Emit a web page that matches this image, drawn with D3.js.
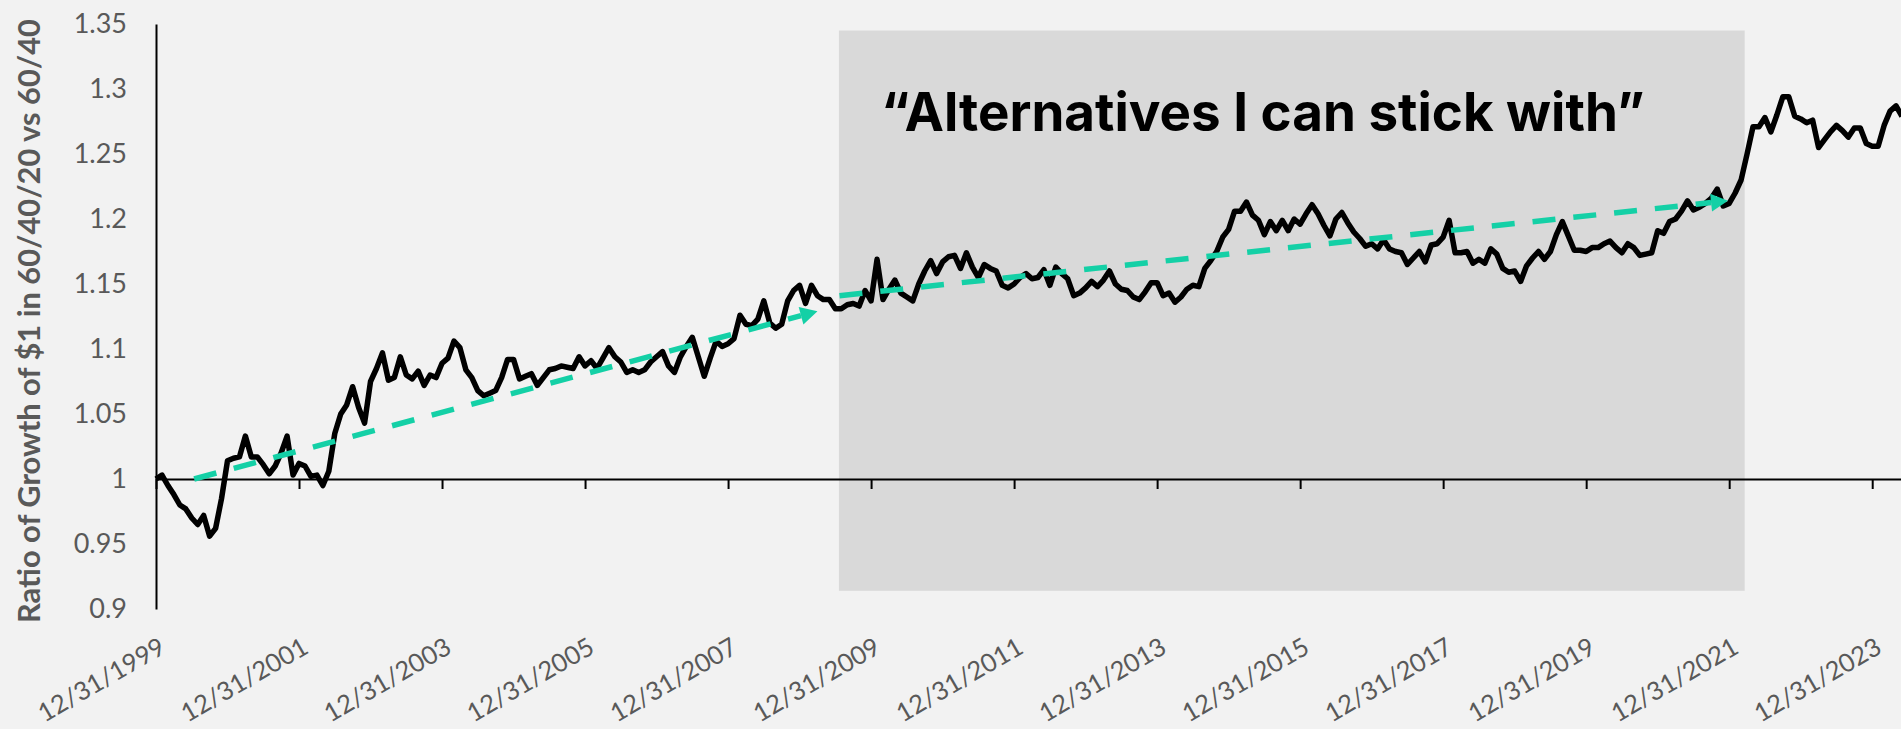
<!DOCTYPE html>
<html>
<head>
<meta charset="utf-8">
<script src="https://cdn.jsdelivr.net/npm/d3@7"></script>
<style>
  body { margin: 0; background: #f2f2f2; }
  svg { display: block; }
</style>
</head>
<body>
<div id="chart"></div>
<script>
// monthly ratio, 12/31/1999 onward (one value per month)
const ratio = [
  1.000, 1.003, 0.995, 0.988, 0.980, 0.977, 0.970, 0.965, 0.972, 0.956,
  0.962, 0.985, 1.014, 1.016, 1.017, 1.033, 1.017, 1.017, 1.011, 1.004,
  1.010, 1.020, 1.033, 1.003, 1.012, 1.010, 1.002, 1.003, 0.995, 1.006,
  1.035, 1.050, 1.057, 1.071, 1.055, 1.043, 1.075, 1.085, 1.097, 1.076,
  1.078, 1.094, 1.080, 1.077, 1.083, 1.072, 1.080, 1.078, 1.089, 1.093,
  1.106, 1.101, 1.084, 1.078, 1.068, 1.064, 1.066, 1.068, 1.078, 1.092,
  1.092, 1.077, 1.079, 1.081, 1.072, 1.078, 1.084, 1.085, 1.087, 1.086,
  1.085, 1.094, 1.087, 1.091, 1.085, 1.093, 1.101, 1.094, 1.090, 1.082,
  1.084, 1.082, 1.084, 1.090, 1.094, 1.098, 1.087, 1.082, 1.094, 1.102,
  1.109, 1.094, 1.079, 1.093, 1.106, 1.102, 1.104, 1.108, 1.126, 1.119,
  1.118, 1.123, 1.137, 1.120, 1.116, 1.119, 1.137, 1.145, 1.149, 1.135,
  1.149, 1.141, 1.138, 1.138, 1.131, 1.131, 1.134, 1.135, 1.133, 1.145,
  1.137, 1.169, 1.138, 1.146, 1.153, 1.143, 1.140, 1.137, 1.150, 1.160,
  1.168, 1.158, 1.167, 1.171, 1.172, 1.162, 1.174, 1.163, 1.155, 1.165,
  1.162, 1.160, 1.149, 1.147, 1.150, 1.155, 1.158, 1.154, 1.155, 1.161,
  1.149, 1.163, 1.158, 1.154, 1.141, 1.143, 1.147, 1.152, 1.148, 1.153,
  1.160, 1.150, 1.146, 1.145, 1.140, 1.138, 1.144, 1.151, 1.151, 1.141,
  1.143, 1.136, 1.140, 1.146, 1.149, 1.148, 1.162, 1.168, 1.175, 1.186,
  1.192, 1.206, 1.206, 1.213, 1.203, 1.199, 1.188, 1.198, 1.191, 1.199,
  1.191, 1.200, 1.196, 1.204, 1.211, 1.204, 1.195, 1.187, 1.200, 1.205,
  1.197, 1.190, 1.185, 1.179, 1.181, 1.177, 1.184, 1.177, 1.175, 1.174,
  1.165, 1.170, 1.175, 1.167, 1.180, 1.181, 1.186, 1.199, 1.174, 1.174,
  1.175, 1.166, 1.169, 1.166, 1.177, 1.173, 1.162, 1.159, 1.160, 1.152,
  1.164, 1.170, 1.175, 1.169, 1.175, 1.188, 1.198, 1.187, 1.176, 1.176,
  1.175, 1.178, 1.178, 1.181, 1.183, 1.178, 1.174, 1.181, 1.178, 1.172,
  1.173, 1.174, 1.191, 1.189, 1.198, 1.200, 1.206, 1.214, 1.207, 1.209,
  1.212, 1.216, 1.223, 1.210, 1.212, 1.220, 1.230, 1.250, 1.271, 1.271,
  1.278, 1.267, 1.280, 1.294, 1.294, 1.279, 1.277, 1.274, 1.276, 1.255,
  1.261, 1.267, 1.272, 1.268, 1.263, 1.270, 1.270, 1.258, 1.256, 1.256,
  1.272, 1.283, 1.287, 1.279
]

const xLabels = ['12/31/1999', '12/31/2001', '12/31/2003', '12/31/2005', '12/31/2007',
  '12/31/2009', '12/31/2011', '12/31/2013', '12/31/2015', '12/31/2017',
  '12/31/2019', '12/31/2021', '12/31/2023']
const xTickIdx = [0, 24, 48, 72, 96, 120, 144, 168, 192, 216, 240, 264, 288]
const yTicks = [0.9, 0.95, 1, 1.05, 1.1, 1.15, 1.2, 1.25, 1.3, 1.35]

// trend arrows: [month index, ratio] start -> end
const trendA = [[6.4, 1.0], [111.0, 1.129]]
const trendB = [[114.7, 1.141], [263.8, 1.214]]
// shaded period (month index / ratio extents)
const shadeMonths = [114.6, 266.6]
const shadeRatio = [0.914, 1.345]

const callout = '\u201CAlternatives I can stick with\u201D'
const yTitle = 'Ratio of Growth of $1 in 60/40/20 vs 60/40'

const W = 1901, H = 729
const font = 'Lato, "Open Sans", sans-serif'
const teal = '#14d0a6'

const svg = d3.select('#chart').append('svg')
  .attr('width', W)
  .attr('height', H)

svg.append('rect')
  .attr('width', W).attr('height', H)
  .attr('fill', '#f2f2f2')

const x = d3.scaleLinear().domain([0, 293]).range([156, 1902])
const y = d3.scaleLinear().domain([0.9, 1.35]).range([609, 24])

// shrink/grow a text's font size so it spans the wanted length
function fitText (sel, size, len) {
  const w = sel.node().getComputedTextLength()
  sel.attr('font-size', size * len / w)
}

/*********** shaded region + callout ***********/
svg.append('rect')
  .attr('x', x(shadeMonths[0]))
  .attr('width', x(shadeMonths[1]) - x(shadeMonths[0]))
  .attr('y', y(shadeRatio[1]))
  .attr('height', y(shadeRatio[0]) - y(shadeRatio[1]))
  .attr('fill', '#d9d9d9')

const title = svg.append('text')
  .attr('x', 881)
  .attr('y', 131)
  .attr('font-family', 'Inter, Lato, sans-serif')
  .attr('font-weight', 700)
  .attr('font-size', 51)
  .attr('fill', '#000')
  .text(callout)
fitText(title, 51, 764)

/*********** axes ***********/
const gy = svg.append('g')
  .attr('transform', 'translate(' + x(0) + ',0)')
  .call(d3.axisLeft(y).tickValues(yTicks).tickSize(0).tickSizeOuter(0).tickPadding(29)
    .tickFormat(d => String(+d.toFixed(2))))
gy.select('.domain').attr('stroke', '#000').attr('stroke-width', 2)
gy.selectAll('text')
  .attr('font-family', font)
  .attr('font-size', 27)
  .attr('fill', '#595959')

const gx = svg.append('g')
  .attr('transform', 'translate(0,' + y(1) + ')')
  .call(d3.axisBottom(x).tickValues(xTickIdx).tickSize(10).tickSizeOuter(0).tickFormat(''))
gx.select('.domain').attr('stroke', '#000').attr('stroke-width', 2)
gx.selectAll('.tick line').attr('stroke', '#000').attr('stroke-width', 2)

svg.append('g')
  .selectAll('text')
  .data(xTickIdx)
  .join('text')
  .attr('transform', d => 'translate(' + (x(d) + 11) + ',652) rotate(-30)')
  .attr('text-anchor', 'end')
  .attr('font-family', font)
  .attr('font-size', 25.5)
  .attr('fill', '#595959')
  .text((d, i) => xLabels[i])

const yt = svg.append('text')
  .attr('transform', 'translate(40,321) rotate(-90)')
  .attr('text-anchor', 'middle')
  .attr('font-family', font)
  .attr('font-weight', 700)
  .attr('font-size', 30)
  .attr('fill', '#595959')
  .text(yTitle)
fitText(yt, 30, 604)

/*********** data line ***********/
const line = d3.line()
  .x((d, i) => x(i))
  .y(d => y(d))

svg.append('path')
  .datum(ratio)
  .attr('d', line)
  .attr('fill', 'none')
  .attr('stroke', '#000')
  .attr('stroke-width', 5.5)
  .attr('stroke-linejoin', 'round')

/*********** trend arrows ***********/
function drawArrow (pts) {
  const x0 = x(pts[0][0]), y0 = y(pts[0][1])
  const x1 = x(pts[1][0]), y1 = y(pts[1][1])
  const ang = Math.atan2(y1 - y0, x1 - x0)
  const headLen = 17, headW = 9
  const bx = x1 - headLen * Math.cos(ang), by = y1 - headLen * Math.sin(ang)

  svg.append('line')
    .attr('x1', x0).attr('y1', y0)
    .attr('x2', bx).attr('y2', by)
    .attr('stroke', teal)
    .attr('stroke-width', 5.5)
    .attr('stroke-dasharray', '23 18')

  const px = -Math.sin(ang) * headW, py = Math.cos(ang) * headW
  svg.append('path')
    .attr('d', 'M' + x1 + ',' + y1 + 'L' + (bx + px) + ',' + (by + py) + 'L' + (bx - px) + ',' + (by - py) + 'Z')
    .attr('fill', teal)
}
drawArrow(trendA)
drawArrow(trendB)
</script>
</body>
</html>
